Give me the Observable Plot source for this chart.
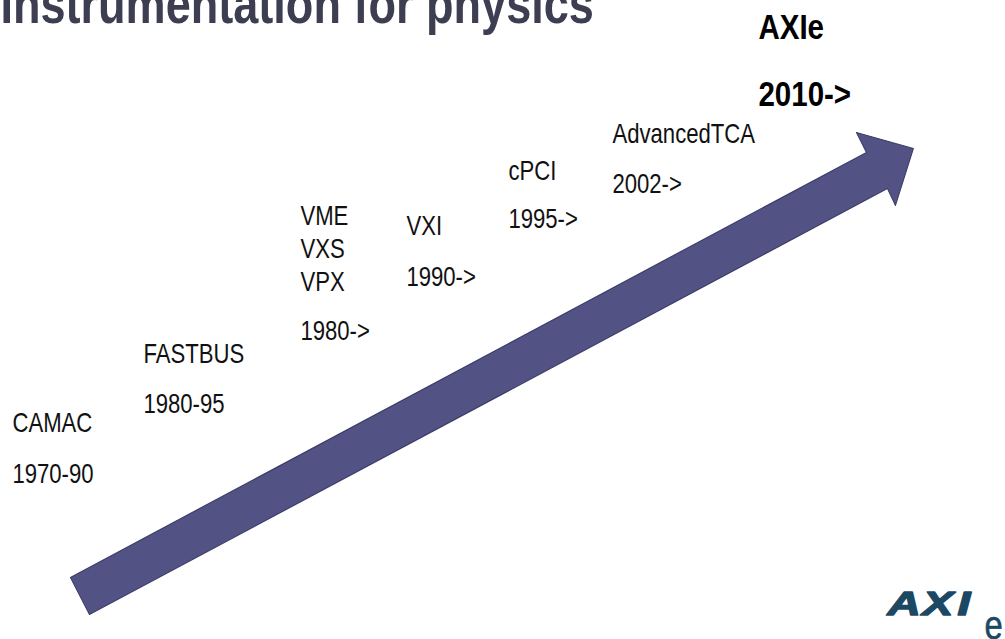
<!DOCTYPE html>
<html>
<head>
<meta charset="utf-8">
<script src="https://cdn.jsdelivr.net/npm/d3@7"></script>
<script src="https://cdn.jsdelivr.net/npm/@observablehq/plot@0.6"></script>
<style>
  html, body { margin: 0; padding: 0; background: #fff; overflow: hidden; }
  #wrap { width: 1005px; height: 639px; overflow: hidden; position: relative; }
  #chart { transform-origin: 0 0; }
</style>
</head>
<body>
<div id="wrap"><div id="chart"></div></div>
<script>
// Slide coordinate system: x 0..1005, y 0..639 (top to bottom)
const titleText = "Instrumentation for physics";

// Standards, their era labels and anchor points along the timeline (slide units)
const standards = ["CAMAC", "FASTBUS", "VME\nVXS\nVPX", "VXI", "cPCI", "AdvancedTCA"];
const eras      = ["1970-90", "1980-95", "1980->", "1990->", "1995->", "2002->"];
const nameX     = [12, 143, 300, 406, 508, 612];
const nameY     = [431, 362, 290, 234, 179, 142];
const eraY      = [482, 412, 339, 285, 227, 192];

// Highlighted newest standard
const latest = ["AXIe", "2010->"];
const latestX = [758, 758];
const latestY = [38, 105];

// Big arrow outline (slide units)
const arrowX = [70, 866, 856, 913, 895, 887, 89];
const arrowY = [577, 152, 132, 148, 205, 188, 614];

// Logo letters
const logoChars = ["A", "X", "I", "e"];
const logoX = [887, 922, 957, 984];
const logoY = [614, 614, 614, 638];

const squeeze = 0.82;
const W = Math.round(1005 / squeeze);
const font = "'Liberation Sans', Arial, sans-serif";

const arrowPts = arrowX.map((x, i) => ({x, y: arrowY[i]}));
const items = standards.map((s, i) => ({name: s, era: eras[i], x: nameX[i], y: nameY[i], ey: eraY[i]}));
const latestItems = latest.map((t, i) => ({t, x: latestX[i], y: latestY[i]}));
const logoMain = logoChars.slice(0, 3).map((c, i) => ({c, x: logoX[i], y: logoY[i]}));
const logoE = [{c: logoChars[3], x: logoX[3], y: logoY[3]}];

const plot = Plot.plot({
  width: W,
  height: 639,
  margin: 0,
  x: {domain: [0, 1005], axis: null},
  y: {domain: [0, 639], range: [0, 639], axis: null},
  style: {fontFamily: font, background: "#fff"},
  marks: [
    Plot.line(arrowPts, {x: "x", y: "y", fill: "#525284", stroke: "#3b3b68", strokeWidth: 1.2, curve: "linear-closed"}),
    Plot.text([titleText], {x: 0, y: 22, text: d => d, textAnchor: "start", lineAnchor: "bottom",
      fontSize: 55, fontWeight: "bold", fill: "#3e3e52"}),
    Plot.text(items, {x: "x", y: "y", text: "name", textAnchor: "start", lineAnchor: "bottom",
      lineHeight: 1.22, fontSize: 27, fill: "#111"}),
    Plot.text(items, {x: "x", y: "ey", text: "era", textAnchor: "start", lineAnchor: "bottom",
      fontSize: 27, fill: "#111"}),
    Plot.text(latestItems, {x: "x", y: "y", text: "t", textAnchor: "start", lineAnchor: "bottom",
      fontSize: 36, fontWeight: "bold", fill: "#000"}),
    Plot.text(logoMain, {x: "x", y: "y", text: "c", textAnchor: "start", lineAnchor: "bottom",
      fontSize: 33, fontWeight: 900, fontStyle: "italic", fill: "#1c4863", stroke: "#1c4863", strokeWidth: 1.4}),
    Plot.text(logoE, {x: "x", y: "y", text: "c", textAnchor: "start", lineAnchor: "bottom",
      fontSize: 40, fill: "#1c4863", stroke: "#1c4863", strokeWidth: 0.6})
  ]
});

// widen the logo letters (the logo uses an extended face)
const groups = d3.select(plot).selectAll("g[aria-label='text']").nodes();
const logoGroup = groups[groups.length - 2];
d3.select(logoGroup).selectAll("text").each(function () {
  const t = this.getAttribute("transform") || "";
  this.setAttribute("transform", t + " scale(1.7,1)");
});

const chart = document.getElementById("chart");
chart.style.width = W + "px";
chart.style.transform = `scaleX(${1005 / W})`;
chart.appendChild(plot);
</script>
</body>
</html>
